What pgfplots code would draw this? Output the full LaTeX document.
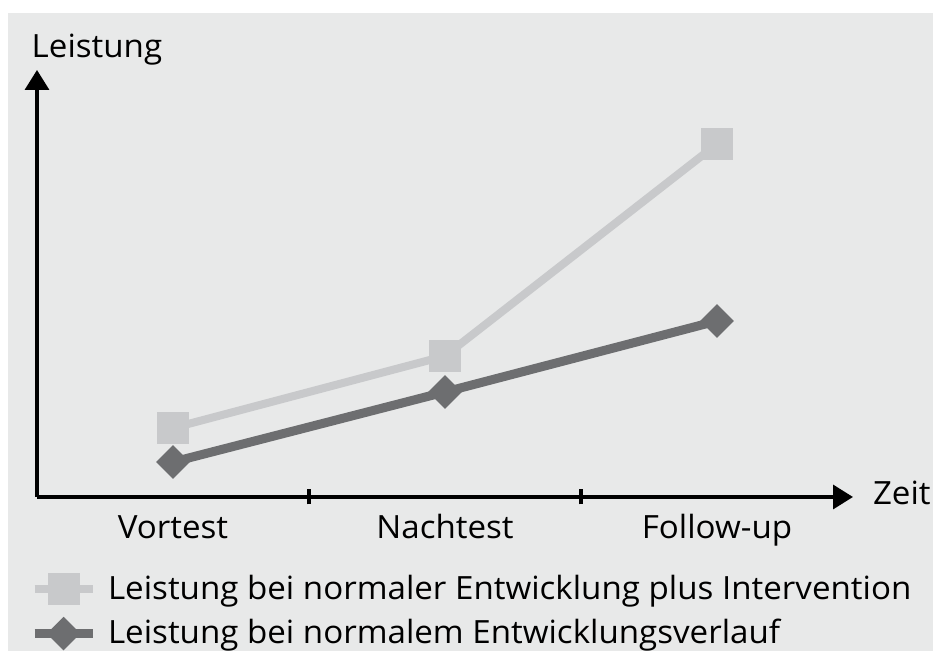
\documentclass[border=0pt]{standalone}
\usepackage{pgfplots}
\pgfplotsset{compat=1.18}
\usepackage{fontspec}
\setmainfont[FakeStretch=1.035]{Open Sans}
\usetikzlibrary{arrows.meta}
\definecolor{bg}{HTML}{E8E9E9}
\definecolor{hell}{HTML}{C8C9CB}
\definecolor{dunkel}{HTML}{6D6E70}
\newcommand{\chartfont}{\fontsize{16}{19}\selectfont}
\begin{document}
\chartfont
\begin{tikzpicture}
% page: 933x651 px, 1px = 0.5pt
\useasboundingbox (0,0) rectangle (466.5pt,325.5pt);
\fill[white] (0,0) rectangle (466.5pt,325.5pt);
\fill[bg] (4pt,0) rectangle (466.5pt,319pt);
\begin{axis}[
    at={(18.5pt,77pt)}, anchor=south west,
    x=136pt, y=0.5pt,
    xmin=-0.5, xmax=2.5, ymin=0, ymax=427,
    clip=false,
    axis lines=left,
    axis line style={line width=1.7pt, -{Triangle[length=10pt,width=12pt]}},
    ytick=\empty,
    xtick={0,1,2},
    xticklabels={Vortest,Nachtest,Follow-up},
    major tick length=0pt,
    extra x ticks={0.5,1.5},
    extra x tick labels={},
    extra x tick style={major tick length=7.5pt, tick align=center,
        tick style={line width=1.6pt, black}},
    xticklabel style={anchor=base, yshift=-21pt, font=\chartfont},
    legend style={at={(axis description cs:-0.009,-0.172)}, anchor=north west,
        draw=none, fill=none, inner sep=0pt, font=\chartfont,
        cells={anchor=west}, row sep=3.5pt,
        /tikz/every odd column/.append style={column sep=3.5pt}},
    legend image code/.code={
        \draw[mark repeat=2,mark phase=2,#1]
            plot coordinates {(0pt,0pt) (14.5pt,0pt) (29pt,0pt)};},
]
\addplot[hell, line width=4pt, mark=square*,
    mark options={draw=none, fill=hell, mark size=6pt}]
    coordinates {(0,69) (1,141) (2,353)};
\addlegendentry{Leistung bei normaler Entwicklung plus Intervention}
\addplot[dunkel, line width=4.5pt, mark=square*,
    mark options={draw=none, fill=dunkel, mark size=3.7pt, rotate=45}]
    coordinates {(0,35) (1,105) (2,176)};
\addlegendentry{Leistung bei normalem Entwicklungsverlauf}
\node[anchor=base west, font=\chartfont] at (axis description cs:-0.02,1.03) {Leistung};
\node[anchor=west, font=\chartfont] at (axis description cs:1.011,0.01) {Zeit};
\end{axis}
\end{tikzpicture}
\end{document}
